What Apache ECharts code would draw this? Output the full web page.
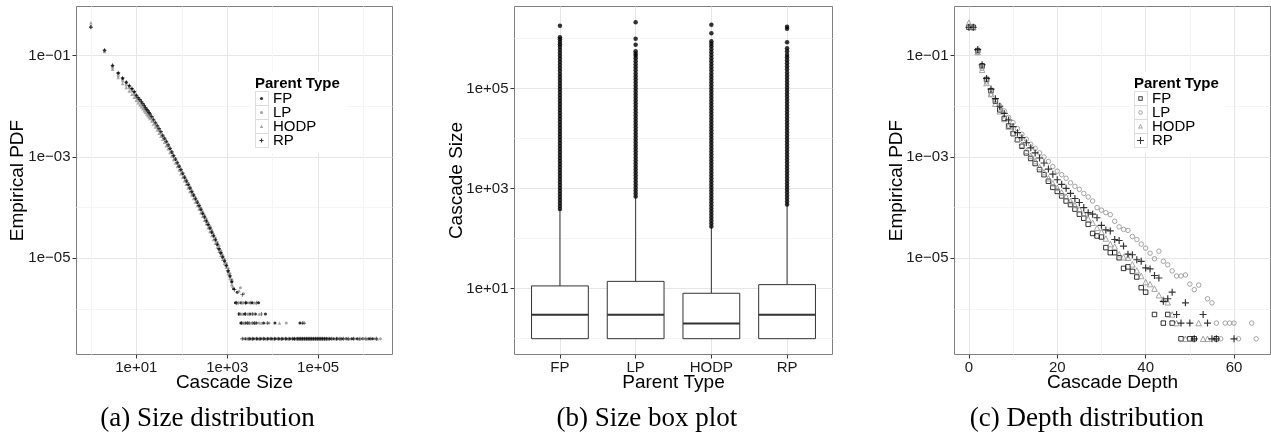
<!DOCTYPE html>
<html><head><meta charset="utf-8">
<script src="https://cdn.jsdelivr.net/npm/echarts@6/dist/echarts.min.js"></script>
<style>html,body{margin:0;padding:0;background:#fff}#chart{width:1271px;height:435px}</style>
</head><body><div id="chart"></div>
<script>
// ---------- Panel (a): size distribution, log10 units ----------
const aSizeLog = [0, 0.301, 0.477, 0.602, 0.699, 0.778, 0.845, 0.903, 0.954, 1.0, 1.041, 1.079, 1.114, 1.146, 1.176, 1.204, 1.23, 1.255, 1.279, 1.301,
  1.34, 1.38, 1.42, 1.46, 1.50, 1.54, 1.58, 1.62, 1.66, 1.70, 1.74, 1.78, 1.82, 1.86, 1.90, 1.94, 1.98, 2.02, 2.06, 2.10, 2.14, 2.18, 2.22, 2.26, 2.30,
  2.34, 2.38, 2.42, 2.46, 2.50, 2.54, 2.58, 2.62, 2.66, 2.70, 2.74, 2.78, 2.82, 2.86, 2.90, 2.94, 2.98, 3.02, 3.06, 3.10];
const aPdfLogFP = [-0.43, -0.90, -1.20, -1.35, -1.45, -1.53, -1.60, -1.66, -1.72, -1.79, -1.84, -1.88, -1.92, -1.96, -2.00, -2.04, -2.07, -2.10, -2.13, -2.16,
  -2.21, -2.27, -2.33, -2.39, -2.45, -2.51, -2.58, -2.64, -2.70, -2.77, -2.84, -2.91, -2.98, -3.05, -3.12, -3.19, -3.26, -3.33, -3.41, -3.48, -3.55, -3.62, -3.69, -3.76, -3.83,
  -3.90, -3.97, -4.04, -4.12, -4.19, -4.27, -4.34, -4.41, -4.49, -4.56, -4.64, -4.73, -4.82, -4.90, -4.98, -5.06, -5.14, -5.26, -5.36, -5.47];
const aPdfLogLP = [-0.44, -0.92, -1.24, -1.40, -1.50, -1.58, -1.64, -1.70, -1.76, -1.82, -1.86, -1.90, -1.94, -1.98, -2.02, -2.05, -2.08, -2.11, -2.14, -2.17,
  -2.22, -2.27, -2.33, -2.39, -2.45, -2.51, -2.57, -2.63, -2.69, -2.76, -2.82, -2.89, -2.96, -3.03, -3.10, -3.17, -3.24, -3.31, -3.38, -3.45, -3.52, -3.59, -3.66, -3.73, -3.80,
  -3.87, -3.94, -4.01, -4.08, -4.15, -4.22, -4.30, -4.37, -4.44, -4.52, -4.60, -4.68, -4.76, -4.85, -4.94, -5.02, -5.10, -5.20, -5.30, -5.42];
const aPdfLogHODP = [-0.35, -0.92, -1.27, -1.43, -1.55, -1.63, -1.70, -1.76, -1.82, -1.88, -1.93, -1.97, -2.01, -2.05, -2.09, -2.12, -2.15, -2.18, -2.21, -2.24,
  -2.29, -2.35, -2.41, -2.47, -2.53, -2.59, -2.65, -2.71, -2.78, -2.84, -2.91, -2.98, -3.05, -3.12, -3.19, -3.26, -3.33, -3.40, -3.47, -3.54, -3.61, -3.68, -3.75, -3.82, -3.89,
  -3.96, -4.03, -4.10, -4.17, -4.25, -4.32, -4.40, -4.47, -4.55, -4.63, -4.70, -4.78, -4.86, -4.94, -5.02, -5.10, -5.18, -5.30, -5.40, -5.52];
const aPdfLogRP = [-0.44, -0.89, -1.19, -1.34, -1.44, -1.52, -1.59, -1.65, -1.71, -1.78, -1.83, -1.87, -1.91, -1.95, -1.99, -2.03, -2.06, -2.09, -2.12, -2.15,
  -2.20, -2.26, -2.32, -2.38, -2.44, -2.50, -2.57, -2.63, -2.69, -2.76, -2.83, -2.90, -2.97, -3.04, -3.11, -3.18, -3.25, -3.32, -3.40, -3.47, -3.54, -3.61, -3.68, -3.75, -3.82,
  -3.89, -3.96, -4.03, -4.11, -4.18, -4.26, -4.33, -4.40, -4.48, -4.55, -4.63, -4.72, -4.81, -4.89, -4.97, -5.05, -5.15, -5.24, -5.34, -5.45];
// tail rows (counts 5,3,2,1 -> log10 pdf) and the sizes seen in each row
const aRowPdfLog = [-5.88, -6.10, -6.28, -6.59];
const aRowsFP = [[3.18, 3.30, 3.42, 3.55, 3.69], [3.27, 3.38, 3.50, 3.62, 3.84], [3.30, 3.40, 3.48, 3.56, 3.64, 3.80, 4.05, 4.60],
  [3.40, 3.50, 3.58, 3.66, 3.74, 3.82, 3.90, 3.98, 4.06, 4.14, 4.22, 4.30, 4.38, 4.46, 4.52, 4.56, 4.60, 4.64, 4.68, 4.72, 4.76, 4.80, 4.84, 4.88, 4.92, 4.96, 5.00, 5.04, 5.08, 5.12, 5.16, 5.20, 5.26, 5.34, 5.42, 5.52, 5.62, 5.74, 5.86, 5.98, 6.12, 6.20]];
const aRowsLP = [[3.25, 3.36, 3.48], [3.30, 3.45, 3.58], [3.35, 3.45, 3.55, 3.70, 3.92, 4.30],
  [3.36, 3.46, 3.62, 3.78, 3.94, 4.10, 4.26, 4.42, 4.54, 4.62, 4.70, 4.78, 4.86, 4.94, 5.02, 5.10, 5.18, 5.30, 5.45, 5.60, 5.80, 6.00, 6.25, 6.37]];
const aRowsHODP = [[3.22, 3.33, 3.60], [3.33, 3.47, 3.70], [3.38, 3.50, 3.62, 3.75, 4.15],
  [3.44, 3.54, 3.70, 3.86, 4.02, 4.18, 4.34, 4.50, 4.58, 4.66, 4.74, 4.82, 4.90, 4.98, 5.06, 5.14, 5.22, 5.38, 5.50, 5.68, 5.90, 6.08, 6.30]];
const aRowsRP = [[3.20, 3.40, 3.52, 3.65], [3.25, 3.40, 3.55, 3.75], [3.32, 3.44, 3.60, 3.88, 4.65, 4.69],
  [3.33, 3.48, 3.56, 3.64, 3.72, 3.80, 3.88, 3.96, 4.04, 4.12, 4.20, 4.28, 4.36, 4.44, 4.48, 4.54, 4.58, 4.62, 4.66, 4.70, 4.74, 4.78, 4.82, 4.86, 4.90, 4.94, 4.98, 5.02, 5.06, 5.10, 5.14, 5.18, 5.24, 5.30, 5.40, 5.48, 5.56, 5.66, 5.78, 5.92, 6.05, 6.16, 6.28]];
const aExtraFP = [[3.14, -5.60], [3.22, -5.67]];
const aExtraLP = [[3.29, -5.58], [3.36, -5.70]];
const aExtraHODP = [[3.12, -5.55], [3.26, -5.64]];
const aExtraRP = [[3.16, -5.62], [3.33, -5.72]];

// ---------- Panel (b): size box plot, log10 units ----------
const boxCategories = ['FP', 'LP', 'HODP', 'RP'];
const boxLowLog = [0, 0, 0, 0];
const boxQ1Log = [0, 0, 0, 0];
const boxMedianLog = [0.477, 0.477, 0.301, 0.477];
const boxQ3Log = [1.054, 1.145, 0.907, 1.08];
const boxHighLog = [2.59, 2.84, 2.24, 2.68];
const outliersFP = [2.59, 2.65, 2.71, 2.77, 2.83, 2.89, 2.95, 3.01, 3.07, 3.13, 3.19, 3.25, 3.31, 3.37, 3.43, 3.49, 3.55, 3.61, 3.67, 3.73, 3.79, 3.85, 3.91, 3.97,
  4.03, 4.09, 4.15, 4.21, 4.27, 4.33, 4.39, 4.45, 4.51, 4.57, 4.63, 4.69, 4.75, 4.81, 4.87, 4.93, 4.99, 5.05, 5.11, 5.17, 5.23, 5.29, 5.35, 5.41, 5.47, 5.53,
  5.59, 5.65, 5.71, 5.77, 5.83, 5.88, 5.93, 5.98, 6.02, 6.25];
const outliersLP = [2.84, 2.90, 2.96, 3.02, 3.08, 3.14, 3.20, 3.26, 3.32, 3.38, 3.44, 3.50, 3.56, 3.62, 3.68, 3.74, 3.80, 3.86, 3.92, 3.98, 4.04, 4.10, 4.16,
  4.22, 4.28, 4.34, 4.40, 4.46, 4.52, 4.58, 4.64, 4.70, 4.76, 4.82, 4.88, 4.94, 5.00, 5.06, 5.12, 5.18, 5.24, 5.30, 5.36, 5.42, 5.48, 5.54, 5.60, 5.65, 5.69,
  5.74, 5.87, 5.99, 6.32];
const outliersHODP = [2.24, 2.30, 2.36, 2.42, 2.48, 2.54, 2.60, 2.66, 2.72, 2.78, 2.84, 2.90, 2.96, 3.02, 3.08, 3.14, 3.20, 3.26, 3.32, 3.38, 3.44, 3.50, 3.56,
  3.62, 3.68, 3.74, 3.80, 3.86, 3.92, 3.98, 4.04, 4.10, 4.16, 4.22, 4.28, 4.34, 4.40, 4.46, 4.52, 4.58, 4.64, 4.70, 4.76, 4.82, 4.88, 4.94, 5.00, 5.06, 5.12,
  5.18, 5.24, 5.30, 5.36, 5.42, 5.48, 5.54, 5.60, 5.66, 5.72, 5.78, 5.84, 5.89, 5.94, 6.10, 6.27];
const outliersRP = [2.68, 2.74, 2.80, 2.86, 2.92, 2.98, 3.04, 3.10, 3.16, 3.22, 3.28, 3.34, 3.40, 3.46, 3.52, 3.58, 3.64, 3.70, 3.76, 3.82, 3.88, 3.94, 4.00,
  4.06, 4.12, 4.18, 4.24, 4.30, 4.36, 4.42, 4.48, 4.54, 4.60, 4.66, 4.72, 4.78, 4.84, 4.90, 4.96, 5.02, 5.08, 5.14, 5.20, 5.26, 5.32, 5.38, 5.44, 5.50, 5.56,
  5.62, 5.67, 5.74, 5.80, 5.92, 6.19, 6.23];

// ---------- Panel (c): depth distribution, log10 pdf ----------
const depthFP = [0,1,2,3,4,5,6,7,8,9,10,11,12,13,14,15,16,17,18,19,20,21,22,23,24,25,26,27,28,29,30,31,32,33,34,35,36,37,38,39,40,42,44,45,46,48,50,51,56];
const pdfLogDepthFP = [-0.44, -0.44, -0.90, -1.20, -1.47, -1.69, -1.90, -2.07, -2.24, -2.39, -2.54, -2.66, -2.79, -2.92, -3.03, -3.13, -3.25, -3.35, -3.48, -3.60,
  -3.68, -3.77, -3.87, -3.94, -4.03, -4.13, -4.21, -4.33, -4.51, -4.56, -4.58, -4.79, -4.89, -4.89, -4.99, -5.20, -5.17, -5.26, -5.37, -5.58, -5.67,
  -6.11, -6.28, -6.11, -6.28, -6.59, -6.59, -6.59, -6.59];
const depthLP = [0,1,2,3,4,5,6,7,8,9,10,11,12,13,14,15,16,17,18,19,20,21,22,23,24,25,26,27,28,29,30,31,32,33,34,35,36,37,38,39,40,41,42,43,44,45,46,47,48,49,50,51,52,54,55,56,57,58,59,60,61,64,65];
const pdfLogDepthLP = [-0.44, -0.44, -0.93, -1.25, -1.52, -1.76, -1.88, -1.99, -2.09, -2.22, -2.32, -2.44, -2.55, -2.65, -2.75, -2.83, -2.92, -3.00, -3.09, -3.19,
  -3.28, -3.35, -3.42, -3.51, -3.58, -3.64, -3.72, -3.79, -3.87, -4.00, -4.05, -4.10, -4.14, -4.27, -4.38, -4.43, -4.45, -4.57, -4.63, -4.72, -4.80, -4.90,
  -5.01, -4.86, -5.06, -5.13, -5.25, -5.35, -5.35, -5.33, -5.51, -5.62, -5.53, -5.80, -5.88, -6.28, -6.59, -6.28, -6.28, -6.28, -6.59, -6.28, -6.59];
const depthHODP = [0,1,2,3,4,5,6,7,8,9,10,11,12,13,14,15,16,17,18,19,20,21,22,23,24,25,26,27,28,29,30,31,32,33,34,35,36,37,38,39,40,41,42,43,44,45,46,47,49,52,53,54];
const pdfLogDepthHODP = [-0.35, -0.44, -0.93, -1.28, -1.54, -1.76, -1.95, -2.10, -2.25, -2.40, -2.52, -2.64, -2.76, -2.88, -2.98, -3.08, -3.20, -3.30, -3.42, -3.52,
  -3.61, -3.70, -3.78, -3.87, -3.95, -4.03, -4.12, -4.22, -4.30, -4.40, -4.48, -4.61, -4.72, -4.77, -4.92, -4.98, -4.99, -5.12, -5.24, -5.35, -5.47, -5.51,
  -5.60, -5.73, -5.81, -5.87, -6.11, -6.28, -6.59, -6.28, -6.59, -6.59];
const depthRP = [0,1,2,3,4,5,6,7,8,9,10,11,12,13,14,15,16,17,18,19,20,21,22,23,24,25,26,27,28,29,30,31,32,33,34,35,36,37,38,39,40,41,42,43,44,45,46,47,48,49,50,51,53,54,55,56,60];
const pdfLogDepthRP = [-0.44, -0.44, -0.88, -1.18, -1.45, -1.66, -1.85, -2.00, -2.14, -2.27, -2.40, -2.52, -2.62, -2.72, -2.82, -2.92, -3.02, -3.12, -3.24, -3.34,
  -3.45, -3.54, -3.62, -3.72, -3.82, -3.90, -4.00, -4.10, -4.13, -4.20, -4.35, -4.44, -4.46, -4.63, -4.65, -4.76, -4.92, -4.93, -5.03, -5.06, -5.19, -5.21,
  -5.34, -5.39, -5.85, -5.80, -5.67, -6.11, -6.28, -5.88, -6.28, -6.59, -6.11, -6.28, -6.59, -6.59, -6.59];

// ---------- Tick positions ----------
const sizeMajorTicks = [1, 3, 5];
const sizeMinorTicks = [0, 2, 4, 6];
const pdfMajorTicks = [-1, -3, -5];
const pdfMinorTicks = [-2, -4, -6];
const depthMajorTicks = [0, 20, 40, 60];
const depthMinorTicks = [10, 30, 50];
const categoryTicks = [1, 2, 3, 4];

// ---------- build ----------
const SANS = 'Liberation Sans';
const SERIF = 'Liberation Serif';
const PLUS = 'path://M2.5,0h1v2.5h2.5v1h-2.5v2.5h-1v-2.5h-2.5v-1h2.5z';
const GREY = '#8f8f8f';

function logLabel(v) {
  const n = Math.round(v);
  return '1e' + (n < 0 ? '\u2212' : '+') + String(Math.abs(n)).padStart(2, '0');
}
function mainAxis(dim, grid, min, max, ticks, fmt, name, nameGap) {
  return {
    type: 'value', gridIndex: grid, min: min, max: max, position: dim === 'x' ? 'bottom' : 'left',
    name: name, nameLocation: 'middle', nameGap: nameGap, nameMoveOverlap: false,
    nameTextStyle: { fontFamily: SANS, fontSize: 19, color: '#000' },
    axisLine: { show: false, onZero: false },
    axisTick: { show: true, customValues: ticks, length: 4, lineStyle: { color: '#333', width: 1 } },
    axisLabel: { customValues: ticks, formatter: fmt, fontFamily: SANS, fontSize: 15, color: '#1a1a1a', margin: 6 },
    splitLine: { show: true, lineStyle: { color: '#e6e6e6', width: 1 } }
  };
}
function minorAxis(dim, grid, min, max, ticks) {
  return {
    type: 'value', gridIndex: grid, min: min, max: max, position: dim === 'x' ? 'top' : 'right',
    axisLine: { show: false, onZero: false },
    axisTick: { show: false, customValues: ticks },
    axisLabel: { show: false, customValues: ticks },
    splitLine: { show: true, lineStyle: { color: '#f5f5f5', width: 1 } }
  };
}
function buildA(yArr, rows, extra) {
  const pts = [];
  const n = Math.min(aSizeLog.length, yArr.length);
  for (let i = 0; i < n; i++) pts.push([aSizeLog[i], yArr[i]]);
  extra.forEach(p => pts.push(p));
  rows.forEach((row, r) => row.forEach(x => pts.push([x, aRowPdfLog[r]])));
  return pts;
}
function zip(xs, ys) {
  const n = Math.min(xs.length, ys.length); const out = [];
  for (let i = 0; i < n; i++) out.push([xs[i], ys[i]]);
  return out;
}

const SIZE_MIN = -0.316, SIZE_MAX = 6.636;
const PDF_MIN = -6.90, PDF_MAX = -0.03;
const DEPTH_MIN = -3.25, DEPTH_MAX = 68.25;

const grids = [
  { left: 76.5, top: 6.5, width: 316, height: 348 },
  { left: 514.5, top: 6.5, width: 318, height: 348 },
  { left: 954.5, top: 6.5, width: 316, height: 348 }
].map(g => Object.assign(g, { show: true, borderColor: '#7f7f7f', borderWidth: 1, backgroundColor: '#fff', containLabel: false, outerBoundsMode: 'none' }));

const xAxes = [
  mainAxis('x', 0, SIZE_MIN, SIZE_MAX, sizeMajorTicks, logLabel, 'Cascade Size', 19),
  minorAxis('x', 0, SIZE_MIN, SIZE_MAX, sizeMinorTicks),
  mainAxis('x', 1, 0.4, 4.6, categoryTicks, v => boxCategories[Math.round(v) - 1], 'Parent Type', 19),
  mainAxis('x', 2, DEPTH_MIN, DEPTH_MAX, depthMajorTicks, v => String(Math.round(v)), 'Cascade Depth', 19),
  minorAxis('x', 2, DEPTH_MIN, DEPTH_MAX, depthMinorTicks)
];
const yAxes = [
  mainAxis('y', 0, PDF_MIN, PDF_MAX, pdfMajorTicks, logLabel, 'Empirical PDF', 49),
  minorAxis('y', 0, PDF_MIN, PDF_MAX, pdfMinorTicks),
  mainAxis('y', 1, SIZE_MIN, SIZE_MAX, sizeMajorTicks, logLabel, 'Cascade Size', 48),
  minorAxis('y', 1, SIZE_MIN, SIZE_MAX, sizeMinorTicks),
  mainAxis('y', 2, PDF_MIN, PDF_MAX, pdfMajorTicks, logLabel, 'Empirical PDF', 48),
  minorAxis('y', 2, PDF_MIN, PDF_MAX, pdfMinorTicks)
];

const seriesA = [
  { name: 'FP', data: buildA(aPdfLogFP, aRowsFP, aExtraFP), symbol: 'circle', symbolSize: 3, itemStyle: { color: '#000' } },
  { name: 'LP', data: buildA(aPdfLogLP, aRowsLP, aExtraLP), symbol: 'circle', symbolSize: 3, itemStyle: { color: GREY } },
  { name: 'HODP', data: buildA(aPdfLogHODP, aRowsHODP, aExtraHODP), symbol: 'triangle', symbolSize: 3.5, itemStyle: { color: GREY } },
  { name: 'RP', data: buildA(aPdfLogRP, aRowsRP, aExtraRP), symbol: PLUS, symbolSize: 4, itemStyle: { color: '#000' } }
].map(s => Object.assign(s, { type: 'scatter', xAxisIndex: 0, yAxisIndex: 0, silent: true }));

const boxData = boxCategories.map((c, i) => [i + 1, boxLowLog[i], boxQ1Log[i], boxMedianLog[i], boxQ3Log[i], boxHighLog[i]]);
const outlierData = [];
[outliersFP, outliersLP, outliersHODP, outliersRP].forEach((arr, i) => arr.forEach(v => outlierData.push([i + 1, v])));

const seriesB = [
  {
    type: 'custom', name: 'box', xAxisIndex: 2, yAxisIndex: 2, data: boxData, silent: true,
    encode: { x: 0, y: [1, 2, 3, 4, 5] },
    renderItem: function (params, api) {
      const x = api.value(0), hw = 0.375;
      const tl = api.coord([x - hw, api.value(4)]);
      const br = api.coord([x + hw, api.value(2)]);
      const mL = api.coord([x - hw, api.value(3)]);
      const mR = api.coord([x + hw, api.value(3)]);
      const hi = api.coord([x, api.value(5)]);
      const q3 = api.coord([x, api.value(4)]);
      const lo = api.coord([x, api.value(1)]);
      const q1 = api.coord([x, api.value(2)]);
      return {
        type: 'group', children: [
          { type: 'line', shape: { x1: hi[0], y1: hi[1], x2: q3[0], y2: q3[1] }, style: { stroke: '#333', lineWidth: 1 } },
          { type: 'line', shape: { x1: lo[0], y1: lo[1], x2: q1[0], y2: q1[1] }, style: { stroke: '#333', lineWidth: 1 } },
          { type: 'rect', shape: { x: tl[0], y: tl[1], width: br[0] - tl[0], height: br[1] - tl[1] }, style: { fill: '#fff', stroke: '#333', lineWidth: 1 } },
          { type: 'line', shape: { x1: mL[0], y1: mL[1], x2: mR[0], y2: mR[1] }, style: { stroke: '#333', lineWidth: 2 } }
        ]
      };
    }
  },
  { type: 'scatter', name: 'outliers', xAxisIndex: 2, yAxisIndex: 2, data: outlierData, symbol: 'circle', symbolSize: 4.5, itemStyle: { color: '#000' }, silent: true }
];

const seriesC = [
  { name: 'c-FP', data: zip(depthFP, pdfLogDepthFP), symbol: 'rect', symbolSize: 4.5, itemStyle: { color: 'none', borderColor: '#000', borderWidth: 1 } },
  { name: 'c-LP', data: zip(depthLP, pdfLogDepthLP), symbol: 'circle', symbolSize: 4.5, itemStyle: { color: 'none', borderColor: GREY, borderWidth: 1 } },
  { name: 'c-HODP', data: zip(depthHODP, pdfLogDepthHODP), symbol: 'triangle', symbolSize: 5.5, itemStyle: { color: 'none', borderColor: GREY, borderWidth: 1 } },
  { name: 'c-RP', data: zip(depthRP, pdfLogDepthRP), symbol: PLUS, symbolSize: 7, itemStyle: { color: '#000' } }
].map(s => Object.assign(s, { type: 'scatter', xAxisIndex: 3, yAxisIndex: 4, silent: true }));

// legends
const legendText = { fontFamily: SANS, fontSize: 15, color: '#000', lineHeight: 14 };
function boxLegend(names, left) {
  return {
    orient: 'vertical', left: left, top: 72, padding: [19, 29, 5, 5], itemGap: -1, itemWidth: 13, itemHeight: 14,
    selectedMode: false, backgroundColor: '#fff', icon: 'rect', data: names,
    itemStyle: { color: '#fff', borderColor: '#d6d6d6', borderWidth: 1 },
    formatter: n => n.replace('c-', ''), textStyle: Object.assign({}, legendText, { color: 'rgba(0,0,0,0)' }), z: 3
  };
}
function symLegend(items, left) {
  return {
    orient: 'vertical', left: left, top: 91, padding: 0, itemGap: -1, itemWidth: 13, itemHeight: 14,
    selectedMode: false, data: items, formatter: n => n.replace('c-', ''), textStyle: legendText, z: 5,
    itemStyle: { borderWidth: 0 }
  };
}
const legendA = symLegend([
  { name: 'FP', icon: 'path://M0,0M13,14M4.9,7a1.6,1.6 0 1,0 3.2,0a1.6,1.6 0 1,0 -3.2,0z' },
  { name: 'LP', icon: 'path://M0,0M13,14M4.9,7a1.6,1.6 0 1,0 3.2,0a1.6,1.6 0 1,0 -3.2,0z' },
  { name: 'HODP', icon: 'path://M0,0M13,14M6.5,5.3L8.3,8.4L4.7,8.4z' },
  { name: 'RP', icon: 'path://M0,0M13,14M6,5h1v1.5h1.5v1h-1.5v1.5h-1v-1.5h-1.5v-1h1.5z' }
], 255);
const legendC = symLegend([
  { name: 'c-FP', icon: 'path://M0,0M13,14M4.3,4.8H8.7V9.2H4.3ZM5.2,5.7V8.3H7.8V5.7Z', itemStyle: { color: '#000', borderWidth: 0 } },
  { name: 'c-LP', icon: 'path://M0,0M13,14M4.3,7a2.2,2.2 0 1,1 4.4,0a2.2,2.2 0 1,1 -4.4,0zM5.2,7a1.3,1.3 0 1,0 2.6,0a1.3,1.3 0 1,0 -2.6,0z', itemStyle: { color: GREY, borderWidth: 0 } },
  { name: 'c-HODP', icon: 'path://M0,0M13,14M6.5,4.3L9.1,8.9L3.9,8.9ZM6.5,5.9L5.4,7.95L7.6,7.95Z', itemStyle: { color: GREY, borderWidth: 0 } },
  { name: 'c-RP', icon: 'path://M0,0M13,14M6,3.5h1v3h3v1h-3v3h-1v-3h-3v-1h3z', itemStyle: { color: '#000', borderWidth: 0 } }
], 1134);

const captionStyle = { fontFamily: SERIF, fontSize: 27, fontWeight: 'normal', color: '#000' };
const legendTitleStyle = { fontFamily: SANS, fontSize: 15, fontWeight: 'bold', color: '#000' };

const option = {
  animation: false,
  backgroundColor: '#fff',
  title: [
    { text: '(a) Size distribution', left: 207.5, top: 405, textAlign: 'center', padding: 0, textStyle: captionStyle },
    { text: '(b) Size box plot', left: 646.8, top: 405, textAlign: 'center', padding: 0, textStyle: captionStyle },
    { text: '(c) Depth distribution', left: 1086.7, top: 405, textAlign: 'center', padding: 0, textStyle: captionStyle },
    { text: 'Parent Type', left: 255, top: 76, padding: 0, textStyle: legendTitleStyle },
    { text: 'Parent Type', left: 1134, top: 76, padding: 0, textStyle: legendTitleStyle }
  ],
  legend: [
    boxLegend(['FP', 'LP', 'HODP', 'RP'], 250),
    legendA,
    boxLegend(['c-FP', 'c-LP', 'c-HODP', 'c-RP'], 1129),
    legendC
  ],
  grid: grids,
  xAxis: xAxes,
  yAxis: yAxes,
  series: seriesA.concat(seriesB, seriesC)
};

const chart = echarts.init(document.getElementById('chart'), null, { renderer: 'canvas' });
chart.setOption(option);
</script></body></html>
